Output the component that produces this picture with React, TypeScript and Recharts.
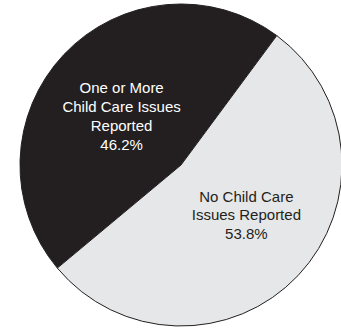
import { PieChart, Pie, Cell } from "recharts";

const categories = ["One or More Child Care Issues Reported", "No Child Care Issues Reported"];
const shares = [46.2, 53.8];
const labelLines = [
  ["One or More", "Child Care Issues", "Reported"],
  ["No Child Care", "Issues Reported"],
];
const colors = ["#231f20", "#e6e7e8"];
const textColors = ["#ffffff", "#231f20"];

const data = categories.map((name, i) => ({ name, value: shares[i] }));

const RADIAN = Math.PI / 180;

function renderLabel(props: any) {
  const { cx, cy, midAngle, outerRadius, index } = props;
  const r = outerRadius * 0.49;
  const x = cx + r * Math.cos(-midAngle * RADIAN) + (index === 0 ? -2 : 8);
  const y = cy + r * Math.sin(-midAngle * RADIAN) + (index === 0 ? 5 : -5);
  const lines = [...labelLines[index], `${shares[index].toFixed(1)}%`];
  const lh = index === 0 ? 19 : 18.5;
  const top = y - ((lines.length - 1) * lh) / 2;
  return (
    <text
      x={x}
      y={top}
      textAnchor="middle"
      dominantBaseline="central"
      fill={textColors[index]}
      fontSize={15}
      fontFamily="'Liberation Sans', Arial, sans-serif"
    >
      {lines.map((t, i) => (
        <tspan key={i} x={x} y={top + i * lh}>
          {t}
        </tspan>
      ))}
    </text>
  );
}

export default function App() {
  return (
    <div style={{ position: "absolute", left: 0, top: 0, width: 341, height: 328, background: "#fff" }}>
      <PieChart width={341} height={328} margin={{ top: 0, right: 0, bottom: 0, left: 0 }}>
        <Pie
          data={data}
          dataKey="value"
          nameKey="name"
          cx={181}
          cy={165}
          outerRadius={161}
          startAngle={53.5}
          endAngle={413.5}
          stroke="#231f20"
          strokeWidth={1}
          label={renderLabel}
          labelLine={false}
          isAnimationActive={false}
        >
          {data.map((d, i) => (
            <Cell key={d.name} fill={colors[i]} />
          ))}
        </Pie>
      </PieChart>
    </div>
  );
}
